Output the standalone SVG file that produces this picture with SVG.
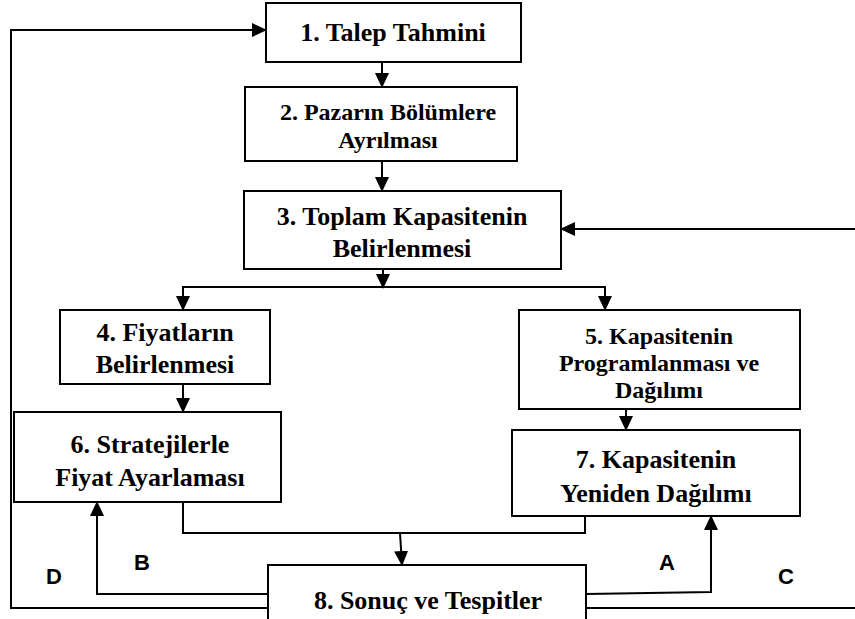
<svg xmlns="http://www.w3.org/2000/svg" width="855" height="619" viewBox="0 0 855 619">
<style>
.box{fill:#fff;stroke:#000;stroke-width:2}
.t{font-family:"Liberation Serif","Times New Roman",serif;font-weight:bold;font-size:26px;text-anchor:middle;fill:#000}
.s{font-size:24px}
.lbl{font-family:"Liberation Sans",Arial,sans-serif;font-weight:bold;font-size:22px;text-anchor:middle;fill:#000}
.c{fill:none;stroke:#000;stroke-width:2}
</style>
<defs>
<marker id="ah" markerWidth="15" markerHeight="14" refX="14" refY="7" orient="auto" markerUnits="userSpaceOnUse">
<path d="M0,0 L15,7 L0,14 Z" fill="#000"/>
</marker>
</defs>
<rect width="855" height="619" fill="#fff"/>
<g id="connectors">
<line class="c" x1="382" y1="62" x2="382" y2="87" marker-end="url(#ah)"/>
<line class="c" x1="382" y1="161" x2="382" y2="191" marker-end="url(#ah)"/>
<line class="c" x1="855" y1="229" x2="561" y2="229" marker-end="url(#ah)"/>
<line class="c" x1="383" y1="269" x2="383" y2="288" marker-end="url(#ah)"/>
<polyline class="c" points="183,310 183,287 605,287 605,310" marker-end="url(#ah)"/>
<line class="c" x1="183" y1="287" x2="183" y2="310" marker-end="url(#ah)"/>
<line class="c" x1="183" y1="384" x2="183" y2="412" marker-end="url(#ah)"/>
<line class="c" x1="626" y1="409" x2="626" y2="430" marker-end="url(#ah)"/>
<polyline class="c" points="183,502 183,533 585,533 585,516"/>
<line class="c" x1="400" y1="533" x2="402" y2="565" marker-end="url(#ah)"/>
<polyline class="c" points="268,594 97,594 97,502" marker-end="url(#ah)"/>
<polyline class="c" points="586,594 711,592 711,516" marker-end="url(#ah)"/>
<polyline class="c" points="268,608 11,608 11,30 266,30" marker-end="url(#ah)"/>
<line class="c" x1="586" y1="608" x2="855" y2="608"/>
</g>
<g id="n1"><rect class="box" x="266" y="3" width="255" height="59"/><text class="t" x="393" y="41">1. Talep Tahmini</text></g>
<g id="n2"><rect class="box" x="245" y="87" width="272" height="74"/><text class="t s" x="388" y="120">2. Pazarın Bölümlere</text><text class="t s" x="388" y="148">Ayrılması</text></g>
<g id="n3"><rect class="box" x="244" y="191" width="317" height="78"/><text class="t" x="402" y="225">3. Toplam Kapasitenin</text><text class="t" x="402" y="257">Belirlenmesi</text></g>
<g id="n4"><rect class="box" x="60" y="310" width="210" height="74"/><text class="t" x="165" y="341">4. Fiyatların</text><text class="t" x="165" y="373">Belirlenmesi</text></g>
<g id="n5"><rect class="box" x="519" y="310" width="281" height="99"/><text class="t s" x="659" y="344">5. Kapasitenin</text><text class="t s" x="659" y="371">Programlanması ve</text><text class="t s" x="659" y="398">Dağılımı</text></g>
<g id="n6"><rect class="box" x="14" y="412" width="267" height="90"/><text class="t" x="150" y="453">6. Stratejilerle</text><text class="t" x="150" y="486">Fiyat Ayarlaması</text></g>
<g id="n7"><rect class="box" x="512" y="430" width="288" height="86"/><text class="t" x="656" y="468">7. Kapasitenin</text><text class="t" x="656" y="502">Yeniden Dağılımı</text></g>
<g id="n8"><rect class="box" x="268" y="565" width="318" height="60"/><text class="t" x="428" y="609">8. Sonuç ve Tespitler</text></g>
<g id="labels">
<text class="lbl" x="142" y="570">B</text>
<text class="lbl" x="54" y="584">D</text>
<text class="lbl" x="667" y="570">A</text>
<text class="lbl" x="786" y="584">C</text>
</g>
</svg>
